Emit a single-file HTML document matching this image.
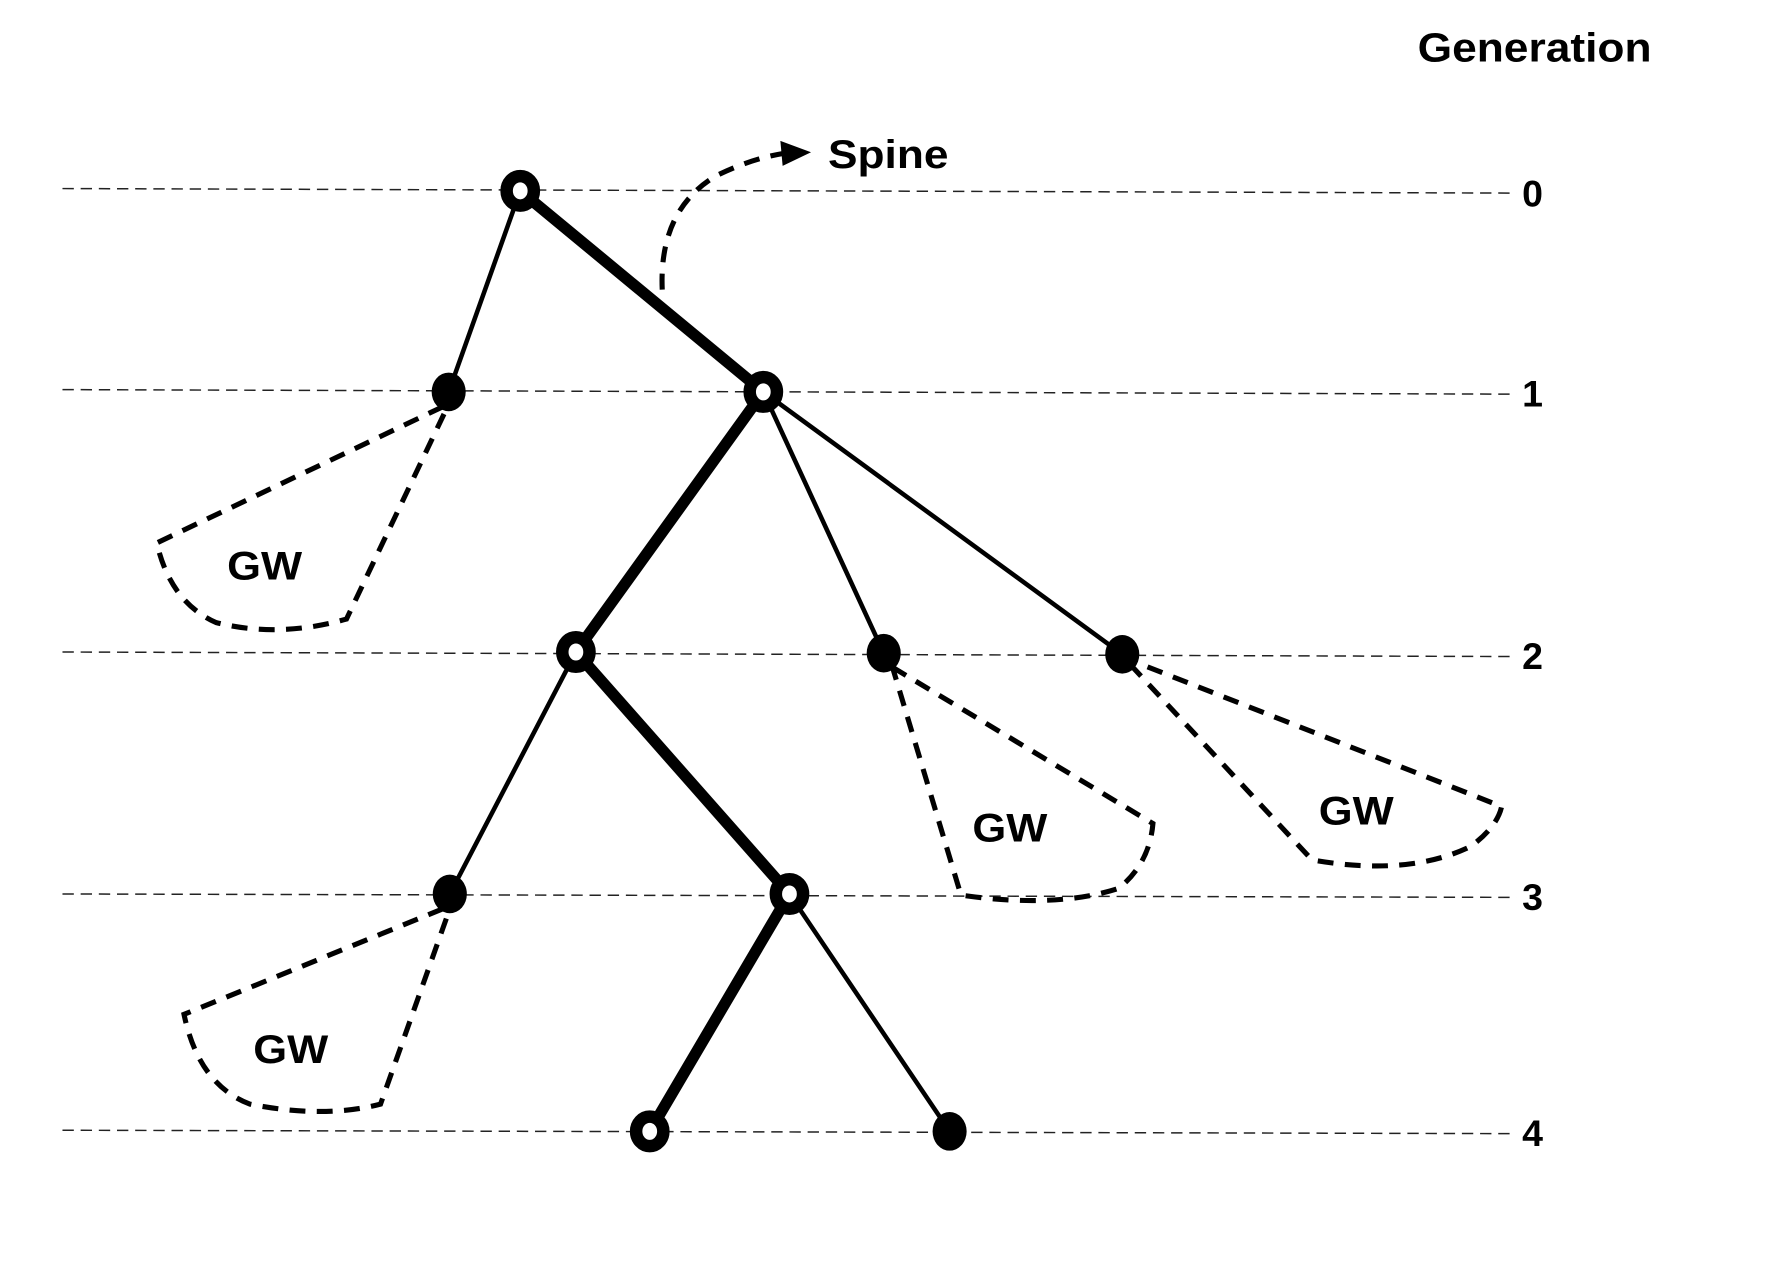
<!DOCTYPE html>
<html><head><meta charset="utf-8"><style>
html,body{margin:0;padding:0;background:#fff;}
svg{display:block;}
text{font-family:"Liberation Sans",sans-serif;font-weight:bold;fill:#000;}
</style></head><body>
<svg width="1772" height="1262" viewBox="0 0 1560 1111" preserveAspectRatio="none" xmlns="http://www.w3.org/2000/svg">
<g stroke="#222" stroke-width="1.3" stroke-dasharray="10,6" fill="none">
<line x1="55" y1="166" x2="1335" y2="170"/>
<line x1="55" y1="343" x2="1335" y2="347"/>
<line x1="55" y1="574" x2="1335" y2="578"/>
<line x1="55" y1="787" x2="1335" y2="790"/>
<line x1="55" y1="995" x2="1335" y2="998"/>
</g>
<text x="1248" y="54" font-size="36" textLength="206" lengthAdjust="spacingAndGlyphs">Generation</text>
<g font-size="33">
<text x="1340" y="182">0</text>
<text x="1340" y="358">1</text>
<text x="1340" y="589">2</text>
<text x="1340" y="801">3</text>
<text x="1340" y="1009">4</text>
</g>
<g fill="none" stroke="#000" stroke-width="4.5" stroke-dasharray="14,10">
<path d="M390 358 L138 478 Q150 530 190 548 Q245 562 305 545 L393 360"/>
<path d="M785 585 L846 788 Q930 800 985 782 Q1012 760 1015 725 L785 587"/>
<path d="M995 585 L1155 757 Q1240 772 1295 745 Q1318 728 1322 710 L1000 583"/>
<path d="M390 800 L162 893 Q175 955 220 972 Q285 985 335 972 L396 800"/>
<path d="M583 255 Q580 185 630 155 Q660 140 690 135"/>
</g>
<polygon points="687,124 714,134 689,146" fill="#000"/>
<text x="729" y="148" font-size="35" textLength="106" lengthAdjust="spacingAndGlyphs">Spine</text>
<g stroke="#000" stroke-linecap="round">
<line x1="458" y1="168" x2="395" y2="345" stroke-width="4"/>
<line x1="458" y1="168" x2="672" y2="345" stroke-width="10"/>
<line x1="672" y1="345" x2="507" y2="574" stroke-width="10"/>
<line x1="672" y1="345" x2="778" y2="575" stroke-width="4"/>
<line x1="672" y1="345" x2="988" y2="576" stroke-width="4"/>
<line x1="507" y1="574" x2="396" y2="787" stroke-width="4"/>
<line x1="507" y1="574" x2="695" y2="787" stroke-width="10"/>
<line x1="695" y1="787" x2="572" y2="996" stroke-width="10"/>
<line x1="695" y1="787" x2="836" y2="996" stroke-width="4"/>
</g>
<g fill="#000">
<ellipse cx="395" cy="345" rx="15" ry="17"/>
<ellipse cx="778" cy="575" rx="15" ry="17"/>
<ellipse cx="988" cy="576" rx="15" ry="17"/>
<ellipse cx="396" cy="787" rx="15" ry="17"/>
<ellipse cx="836" cy="996" rx="15" ry="17"/>
</g>
<g fill="#fff" stroke="#000" stroke-width="11">
<ellipse cx="458" cy="168" rx="12" ry="13"/>
<ellipse cx="672" cy="345" rx="12" ry="13"/>
<ellipse cx="507" cy="574" rx="12" ry="13"/>
<ellipse cx="695" cy="787" rx="12" ry="13"/>
<ellipse cx="572" cy="996" rx="12" ry="13"/>
</g>
<g font-size="35">
<text x="200" y="510" textLength="66" lengthAdjust="spacingAndGlyphs">GW</text>
<text x="856" y="741" textLength="66" lengthAdjust="spacingAndGlyphs">GW</text>
<text x="1161" y="726" textLength="66" lengthAdjust="spacingAndGlyphs">GW</text>
<text x="223" y="936" textLength="66" lengthAdjust="spacingAndGlyphs">GW</text>
</g>
</svg>
</body></html>
